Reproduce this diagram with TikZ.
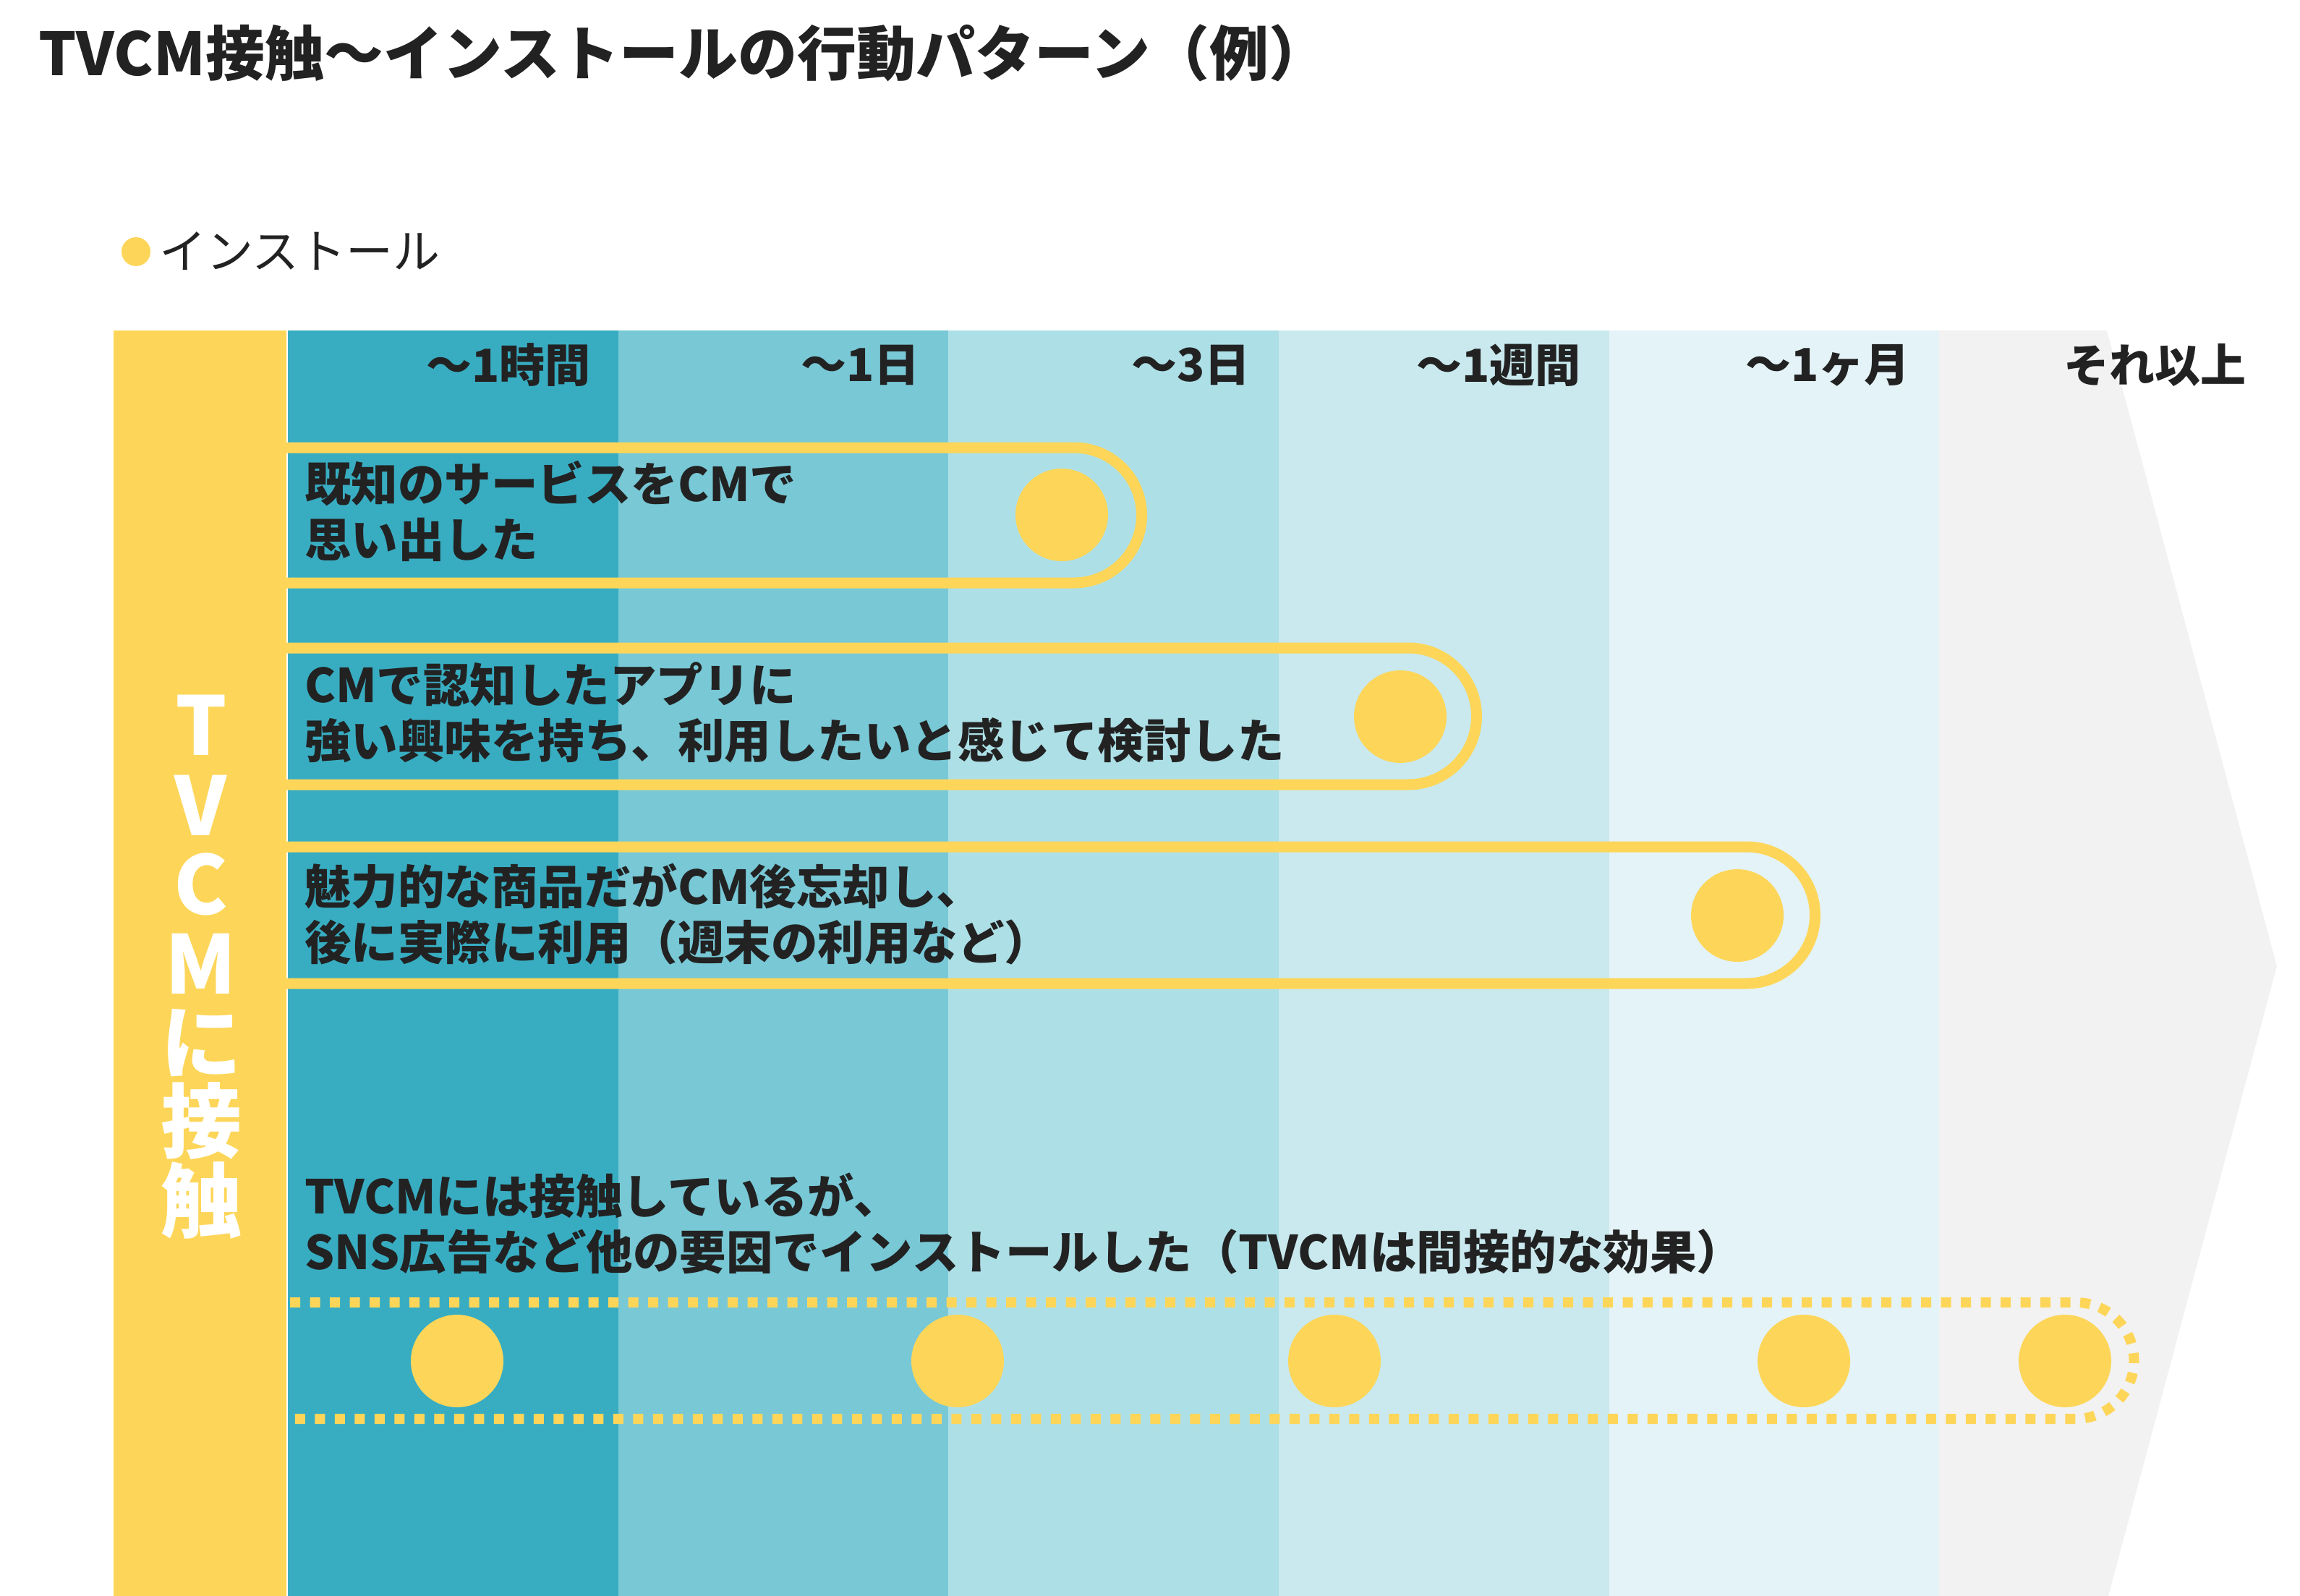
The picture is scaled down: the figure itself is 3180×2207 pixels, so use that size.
\documentclass[tikz,border=0pt]{standalone}
\usepackage{fontspec}
\newfontfamily\jp{Noto Sans CJK JP}
\definecolor{cy}{HTML}{FDD659}
\definecolor{b1}{HTML}{38ADC2}
\definecolor{b2}{HTML}{78C8D6}
\definecolor{b3}{HTML}{ADDFE6}
\definecolor{b4}{HTML}{C9E9EE}
\definecolor{b5}{HTML}{E4F3F7}
\definecolor{gr}{HTML}{F2F2F2}
\definecolor{tx}{HTML}{222222}
\tikzset{
  hdr/.style={anchor=east,inner sep=0pt,text=tx,font={\jp\bfseries\fontsize{63}{70}\selectfont}},
  rowtxt/.style={anchor=west,inner sep=0pt,text=tx,align=left,font={\jp\bfseries\fontsize{64.5}{77}\selectfont}},
  vchar/.style={inner sep=0pt,text=white,font={\jp\bfseries\fontsize{112}{112}\selectfont}},
  pill/.style={draw=cy,line width=15pt},
  dotpill/.style={draw=cy,line width=14pt,dash pattern=on 14pt off 13.5pt},
  inst/.style={fill=cy,draw=none},
}
\begin{document}
\begin{tikzpicture}[x=1pt,y=-1pt]
\useasboundingbox (0,0) rectangle (3180,2207);
\fill[white] (0,0) rectangle (3180,2207);
% bands
\fill[b1] (397,457) rectangle (856,2207);
\fill[b2] (855,457) rectangle (1312,2207);
\fill[b3] (1311,457) rectangle (1769,2207);
\fill[b4] (1768,457) rectangle (2226,2207);
\fill[b5] (2225,457) rectangle (2682,2207);
\fill[gr] (2681,457) -- (2913,457) -- (3148,1336) -- (2915,2207) -- (2681,2207) -- cycle;
\draw[white,line width=2pt] (397,457) -- (397,2207);
\fill[cy] (157,457) rectangle (396,2207);
% title
\node[anchor=base west,inner sep=0pt,text=tx,font={\jp\bfseries\fontsize{82}{90}\selectfont}] (title) at (53,105) {TVCM接触～インストールの行動パターン（例）};
% legend
\fill[cy] (188,348) circle[radius=20pt];
\node[anchor=west,inner sep=0pt,text=tx,font={\jp\fontsize{65}{70}\selectfont}] (leg) at (220,347) {インストール};
% headers
\node[hdr] (h1) at (817,505) {～1時間};
\node[hdr] (h2) at (1272,505) {～1日};
\node[hdr] (h3) at (1729,505) {～3日};
\node[hdr] (h4) at (2186,505) {～1週間};
\node[hdr] (h5) at (2641,505) {～1ヶ月};
\node[hdr] (h6) at (3106,505) {それ以上};
% vertical label
\node[vchar] (v1) at (278,1003) {T};
\node[vchar] (v2) at (278,1114) {V};
\node[vchar] (v3) at (278,1223) {C};
\node[vchar] (v4) at (278,1333) {M};
\node[vchar] (v5) at (278,1442) {に};
\node[vchar] (v6) at (278,1550) {接};
\node[vchar] (v7) at (278,1660) {触};
% row 1
\draw[pill] (396,619) -- (1485,619) arc[start angle=90,end angle=-90,radius=93.5pt] -- (396,806);
\fill[inst] (1468,712) circle[radius=64pt];
\node[rowtxt] (r1) at (421,707) {既知のサービスをCMで\\思い出した};
% row 2
\draw[pill] (396,896) -- (1947,896) arc[start angle=90,end angle=-90,radius=94.5pt] -- (396,1085);
\fill[inst] (1936,991) circle[radius=64pt];
\node[rowtxt] (r2) at (421,985) {CMで認知したアプリに\\強い興味を持ち、利用したいと感じて検討した};
% row 3
\draw[pill] (396,1171) -- (2415,1171) arc[start angle=90,end angle=-90,radius=94.5pt] -- (396,1360);
\fill[inst] (2402,1266) circle[radius=64pt];
\node[rowtxt] (r3) at (421,1264) {魅力的な商品だがCM後忘却し、\\後に実際に利用（週末の利用など）};
% row 4
\node[rowtxt] (r4) at (421,1692) {TVCMには接触しているが、\\SNS広告など他の要因でインストールした（TVCMは間接的な効果）};
\draw[dotpill] (401,1801) -- (2870,1801) arc[start angle=90,end angle=-90,radius=80.5pt] -- (398,1962);
\fill[inst] (632,1882) circle[radius=64pt];
\fill[inst] (1324,1882) circle[radius=64pt];
\fill[inst] (1845,1882) circle[radius=64pt];
\fill[inst] (2494,1882) circle[radius=64pt];
\fill[inst] (2855,1882) circle[radius=64pt];
\end{tikzpicture}
\end{document}
